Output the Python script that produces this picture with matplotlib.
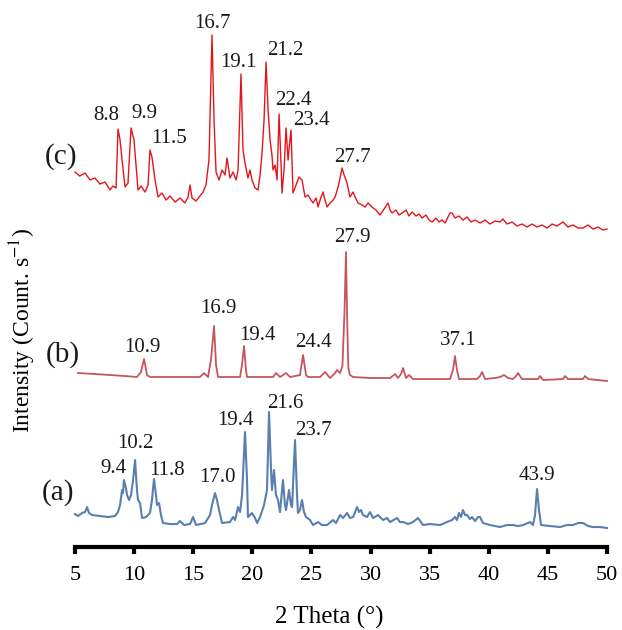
import numpy as np
import matplotlib
matplotlib.use("Agg")
import matplotlib.pyplot as plt

plt.rcParams["font.family"] = ["Liberation Serif", "DejaVu Serif"]
plt.rcParams["mathtext.fontset"] = "stix"

# traces: 2 theta (deg), intensity above each baseline (a.u.)
tt_a = [5.0, 5.25, 5.59, 5.85, 6.02, 6.18, 6.44, 7.11, 7.79, 8.38, 8.64, 8.81, 8.98, 9.06, 9.14,
        9.31, 9.4, 9.57, 9.74, 9.91, 10.08, 10.24, 10.33, 10.5, 10.67, 11.0, 11.34, 11.51, 11.68,
        11.85, 11.94, 12.11, 12.27, 12.44, 13.04, 13.63, 13.88, 14.22, 14.73, 14.98, 15.24, 16.0,
        16.42, 16.59, 16.84, 17.01, 17.18, 17.44, 18.11, 18.37, 18.54, 18.79, 18.96, 19.13, 19.38,
        19.55, 19.63, 19.97, 20.23, 20.4, 20.65, 20.99, 21.24, 21.41, 21.58, 21.66, 21.83, 22.0,
        22.17, 22.34, 22.59, 22.76, 22.85, 23.1, 23.27, 23.36, 23.61, 23.78, 23.86, 24.03, 24.2,
        24.37, 24.54, 24.88, 25.13, 25.56, 25.89, 26.32, 26.83, 27.08, 27.42, 27.67, 28.01, 28.26,
        28.52, 28.69, 28.86, 29.03, 29.19, 29.36, 29.7, 29.95, 30.21, 30.63, 31.05, 31.39, 31.65,
        32.24, 32.49, 32.75, 33.17, 33.59, 34.01, 34.44, 35.03, 35.88, 36.47, 36.89, 37.14, 37.31,
        37.48, 37.65, 37.82, 37.99, 38.16, 38.41, 38.58, 38.84, 39.09, 39.26, 39.51, 40.1, 40.95,
        41.54, 42.05, 42.47, 42.9, 43.49, 43.74, 43.91, 44.08, 44.25, 44.42, 45.18, 46.03, 46.62,
        47.13, 47.55, 47.97, 48.4, 48.82, 49.41, 50.0]
int_a = [13, 11, 14, 15, 20, 14, 12, 11, 10, 11, 15, 22, 37, 34, 47,
         39, 32, 27, 32, 47, 67, 37, 27, 24, 9, 10, 14, 27, 48,
         32, 22, 24, 12, 4, 3, 3, 6, 2, 3, 10, 2, 4,
         12, 22, 34, 27, 17, 4, 5, 10, 7, 20, 15, 32, 95,
         47, 10, 14, 9, 4, 10, 22, 37, 115, 57, 37, 57, 32,
         27, 15, 47, 22, 17, 37, 22, 20, 87, 32, 14, 17, 27,
         15, 10, 7, 2, 5, 2, 2, 7, 4, 12, 9, 14, 9,
         10, 15, 20, 15, 17, 12, 10, 15, 9, 12, 7, 9, 5,
         9, 5, 5, 3, 5, 9, 2, 3, 2, 5, 7, 10, 7,
         14, 10, 17, 12, 12, 8, 10, 6, 10, 10, 4, 2, 0,
         2, 2, 1, 2, 5, 2, 12, 38, 17, 2, 1, 0, 2,
         2, 4, 4, 1, 0, 0, -1]

tt_b = [5.25, 6.69, 7.96, 9.23, 10.24, 10.58, 10.84, 11.09, 11.34, 13.46, 15.57, 15.91, 16.25,
        16.5, 16.76, 16.93, 17.1, 18.96, 19.12, 19.3, 19.46, 19.55, 21.75, 22.0, 22.34, 22.85,
        23.19, 24.03, 24.29, 24.54, 24.71, 25.73, 26.15, 26.57, 27.0, 27.16, 27.42, 27.62, 27.8,
        27.92, 28.02, 28.12, 28.26, 28.52, 29.96, 31.65, 32.07, 32.32, 32.58, 32.75, 33.0, 33.25,
        33.59, 35.03, 36.72, 36.97, 37.14, 37.31, 37.48, 39.0, 39.26, 39.43, 39.68, 40.53, 40.95,
        41.29, 41.63, 42.05, 42.31, 42.47, 42.81, 44.17, 44.33, 44.59, 46.28, 46.45, 46.7, 47.97,
        48.14, 48.4, 50.0]
int_b = [7, 6, 5, 4, 3, 8, 21, 5, 3, 3, 3, 7, 3,
         20, 54, 15, 3, 3, 15, 34, 10, 3, 3, 7, 3, 7,
         3, 5, 25, 5, 3, 3, 8, 2, 7, 10, 7, 14, 70,
         128, 60, 12, 5, 3, 2, 2, 6, 2, 6, 12, 2, 5,
         1, 1, 1, 10, 24, 10, 1, 1, 4, 8, 1, 2, 3,
         5, 2, 1, 4, 7, 1, 1, 4, 0, 1, 4, 1, 1,
         4, 1, -1]

tt_c = [5.0, 5.4, 5.85, 6.27, 6.69, 7.11, 7.54, 7.96, 8.2, 8.47, 8.64, 8.81, 8.98, 9.23, 9.48,
        9.74, 9.99, 10.16, 10.33, 10.58, 10.92, 11.18, 11.34, 11.51, 11.77, 12.02, 12.36, 12.7,
        13.04, 13.46, 13.88, 14.3, 14.56, 14.73, 14.9, 15.24, 15.57, 15.83, 16.08, 16.33, 16.59,
        16.76, 16.93, 17.18, 17.44, 17.69, 17.86, 18.11, 18.37, 18.62, 18.79, 19.04, 19.21, 19.38,
        19.63, 19.8, 19.97, 20.23, 20.48, 20.65, 20.82, 20.99, 21.16, 21.33, 21.5, 21.66, 21.75,
        21.92, 22.09, 22.26, 22.43, 22.51, 22.68, 22.85, 23.02, 23.1, 23.27, 23.44, 23.69, 23.95,
        24.2, 24.46, 24.71, 24.96, 25.13, 25.39, 25.56, 25.73, 25.98, 26.15, 26.32, 26.57, 26.83,
        27.0, 27.25, 27.42, 27.59, 27.76, 28.01, 28.26, 28.52, 28.69, 28.94, 29.28, 29.53, 29.79,
        30.12, 30.46, 30.8, 31.14, 31.48, 31.65, 31.82, 32.15, 32.41, 32.66, 33.0, 33.25, 33.51,
        33.85, 34.1, 34.35, 34.69, 34.95, 35.2, 35.54, 35.79, 36.05, 36.3, 36.55, 36.72, 36.89,
        37.14, 37.48, 37.82, 38.16, 38.5, 38.84, 39.26, 39.68, 40.1, 40.53, 40.95, 41.2, 41.54,
        41.97, 42.39, 42.81, 43.24, 43.66, 44.08, 44.5, 44.93, 45.35, 45.77, 46.28, 46.7, 47.13,
        47.55, 47.97, 48.4, 48.82, 49.24, 49.66, 50.0]
int_c = [60, 56, 59, 52, 54, 48, 50, 42, 46, 44, 103, 92, 72, 45, 49,
         104, 92, 67, 42, 46, 40, 47, 82, 75, 52, 35, 39, 32,
         36, 30, 34, 29, 35, 47, 34, 31, 36, 40, 47, 72, 197,
         112, 60, 52, 62, 57, 74, 54, 60, 52, 62, 158, 82, 69,
         54, 62, 52, 44, 42, 57, 79, 112, 170, 122, 92, 77, 62,
         67, 52, 118, 67, 39, 62, 104, 72, 82, 102, 39, 47, 55,
         52, 35, 37, 32, 29, 34, 25, 32, 40, 32, 25, 29, 32,
         35, 45, 54, 64, 57, 49, 35, 40, 35, 29, 27, 25, 29,
         25, 22, 17, 23, 29, 22, 19, 22, 17, 19, 22, 16, 20,
         16, 18, 14, 17, 12, 10, 14, 10, 12, 9, 15, 19, 19,
         14, 16, 12, 15, 10, 12, 9, 12, 8, 11, 10, 13, 8,
         10, 6, 8, 5, 8, 5, 7, 4, 8, 6, 10, 5, 7,
         4, 4, 7, 3, 5, 2, 3]

sample_names = ["(a)", "(b)", "(c)"]
offsets = [20, 167, 315]
line_colors = ["#5a7fae", "#c5565e", "#e3151c"]

peaks_a = ["9.4", "10.2", "11.8", "17.0", "19.4", "21.6", "23.7", "43.9"]
peaks_b = ["10.9", "16.9", "19.4", "24.4", "27.9", "37.1"]
peaks_c = ["8.8", "9.9", "11.5", "16.7", "19.1", "21.2", "22.4", "23.4", "27.7"]

# where each label sits (2 theta, plot height)
pos_a = [(8.21, 79), (10.08, 104), (12.78, 77), (17.01, 70), (18.54, 127),
         (22.76, 144), (25.13, 117), (44.08, 72)]
pos_b = [(10.67, 200), (17.1, 239), (20.4, 212), (25.13, 205), (28.43, 310), (37.4, 207)]
pos_c = [(7.62, 432), (10.84, 434), (12.95, 409), (16.59, 524), (18.79, 485),
         (22.76, 497), (23.44, 447), (24.96, 427), (28.43, 390)]
name_pos = [(3.56, 54), (3.98, 192), (3.82, 390)]

fig = plt.figure(figsize=(6.22, 6.30), dpi=100)
ax = fig.add_axes([0.1206, 0.1317, 0.8553, 0.8683])

traces = [(tt_a, int_a), (tt_b, int_b), (tt_c, int_c)]
widths = [1.5, 1.3, 1.0]
for (tt, inten), off, col, lw in zip(traces, offsets, line_colors, widths):
    ax.plot(tt, np.array(inten) + off, color=col, lw=lw, clip_on=False)

for labels, pos in [(peaks_a, pos_a), (peaks_b, pos_b), (peaks_c, pos_c)]:
    for lab, (x, y) in zip(labels, pos):
        ax.text(x, y, lab, ha="center", va="center", fontsize=15, color="#1a1a1a")

for name, (x, y) in zip(sample_names, name_pos):
    ax.text(x, y, name, ha="center", va="center", fontsize=21, color="#1a1a1a", clip_on=False)

ax.set_xlim(5, 50)
ax.set_ylim(0, 547)
ax.set_xticks(np.arange(5, 51, 5))
ax.set_xticks([5, 50], minor=True)
ax.set_yticks([])
for side in ["left", "right", "top"]:
    ax.spines[side].set_visible(False)
ax.spines["bottom"].set_linewidth(3)
ax.tick_params(axis="x", which="major", direction="out", length=5, width=3, labelsize=16, pad=9)
ax.tick_params(axis="x", which="minor", direction="in", length=5, width=3)
ax.patch.set_alpha(0)

fig.text(0.53, 0.02, "2 Theta (°)", ha="center", va="center", fontsize=18)
fig.text(0.036, 0.476, r"Intensity (Count. s$^{-1}$)", ha="center", va="center",
         rotation=90, fontsize=17)

fig.savefig("out.png", dpi=100)
